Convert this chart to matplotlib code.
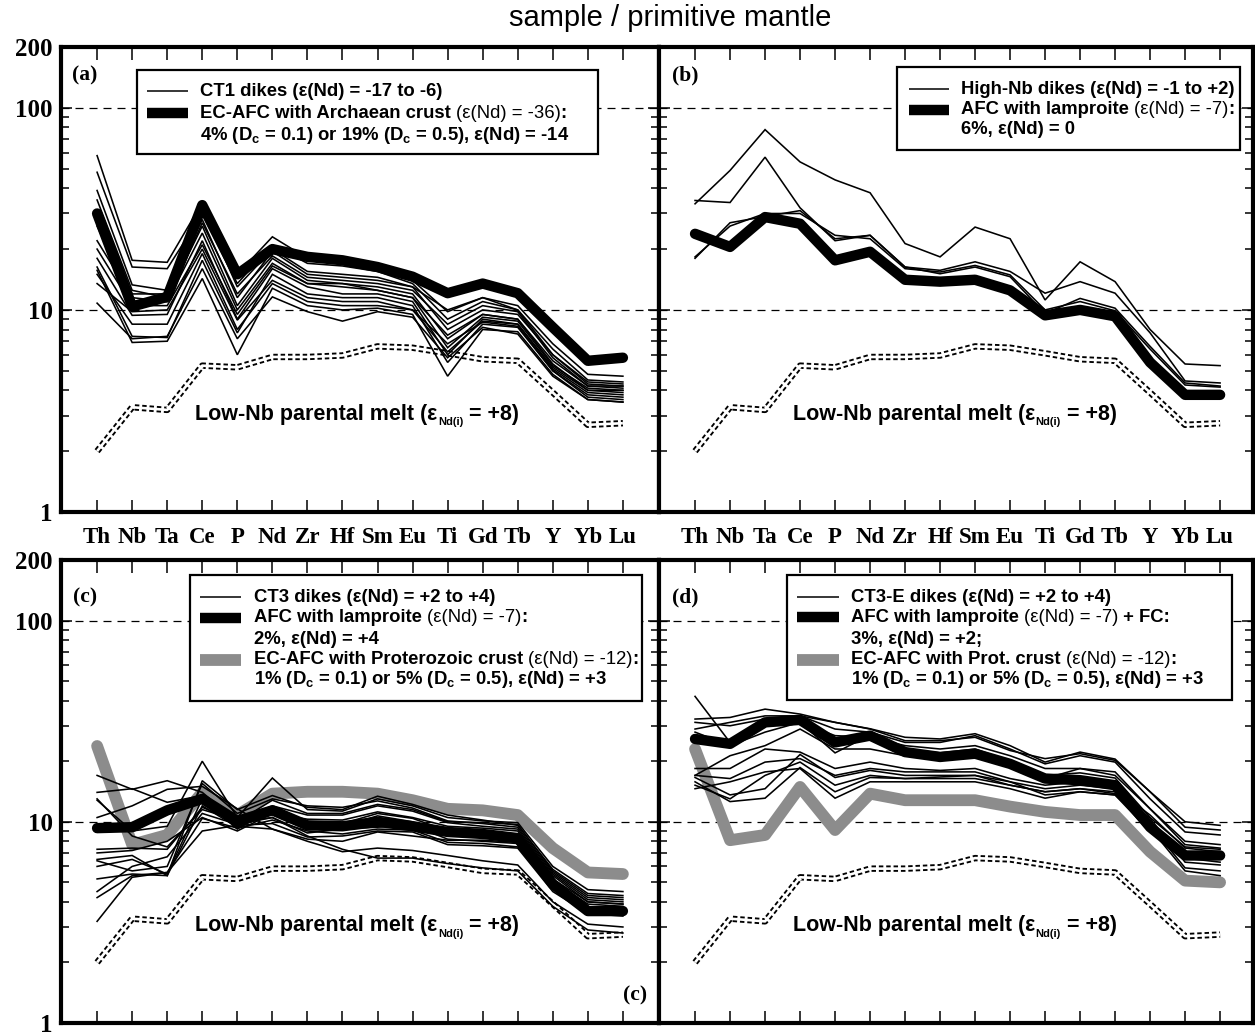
import numpy as np
import matplotlib
matplotlib.use("Agg")
import matplotlib.pyplot as plt
from matplotlib.lines import Line2D
from matplotlib.patches import Rectangle
from matplotlib.text import Annotation
from matplotlib.ticker import FixedLocator, LogLocator, NullFormatter

plt.rcParams["font.family"] = ["Liberation Sans", "DejaVu Sans"]
plt.rcParams["mathtext.fontset"] = "custom"
plt.rcParams["mathtext.rm"] = "Liberation Sans:bold"
plt.rcParams["mathtext.it"] = "Liberation Sans:bold"
plt.rcParams["mathtext.bf"] = "Liberation Sans:bold"

# ---------------- data ----------------
elements = ["Th", "Nb", "Ta", "Ce", "P", "Nd", "Zr", "Hf", "Sm", "Eu",
            "Ti", "Gd", "Tb", "Y", "Yb", "Lu"]
ytick_values = [1, 10, 100, 200]
ytick_labels = ["1", "10", "100", "200"]

parental_melt = [2.0, 3.3, 3.2, 5.3, 5.2, 5.85, 5.85, 5.95, 6.6, 6.5,
                 6.1, 5.7, 5.6, 3.9, 2.7, 2.75]

# panel (a)
ct1_dikes = [
    [58, 17.6, 17.2, 34, 15, 23, 18, 17, 16, 14, 9.8, 11.5, 10.5, 6.8, 4.8, 4.7],
    [48, 16.3, 16.0, 30, 13.5, 21, 17, 16.5, 15.5, 13.5, 9.0, 11.0, 10.0, 6.4, 4.5, 4.4],
    [39, 13.3, 12.5, 28, 11.5, 19.5, 15, 14.5, 14, 13, 8, 10, 9.5, 6.0, 4.4, 4.3],
    [35, 12.5, 11.5, 26, 10.5, 18, 14, 13.5, 13, 12, 7.2, 9.5, 9, 5.6, 4.2, 4.2],
    [22, 11.5, 11, 24, 10, 17, 13.5, 13, 12.5, 11.5, 6.5, 9.2, 8.8, 5.3, 4.1, 4.0],
    [18, 9.4, 9.5, 22, 9.0, 16, 13, 12, 12, 11, 6.0, 9.0, 8.5, 5.2, 4.0, 3.9],
    [16.3, 7.4, 7.3, 17.6, 7.7, 15, 12, 11.5, 11.5, 10.5, 5.5, 8.5, 8.2, 5.0, 3.8, 3.7],
    [15.7, 6.9, 7.0, 14.3, 6.0, 12.8, 10.5, 10.0, 10.2, 9.5, 4.7, 8.0, 7.8, 4.8, 3.6, 3.5],
    [13.5, 9.8, 10, 20, 8.9, 14, 11.5, 11, 11, 10, 6.2, 8.8, 8.5, 5.1, 3.9, 3.8],
    [10.8, 7.2, 7.4, 16, 7.2, 11.6, 9.8, 8.8, 9.8, 9.2, 5.8, 8.2, 7.6, 4.7, 3.6, 3.5],
    [30, 12, 12, 32, 13, 20, 15.5, 15, 14.5, 13, 10, 11.5, 10, 6.0, 4.3, 4.2],
    [20, 10.5, 10.5, 21, 9.5, 16.5, 13.5, 13.5, 12.5, 11.5, 7.5, 9.5, 9, 5.4, 4.0, 4.0],
    [26, 11, 11, 27, 12, 18.5, 14.5, 14, 13.5, 12.5, 8.5, 10.5, 9.8, 5.8, 4.2, 4.1],
    [15, 8.5, 8.5, 19, 8.0, 13.5, 11, 10.5, 10.5, 10, 6.8, 8.7, 8.3, 5.0, 3.7, 3.6],
]
ecafc_archaean = [30, 10.4, 11.6, 33, 15, 20, 18.3, 17.6, 16.3, 14.6, 12.1, 13.5, 12.1, 8.2, 5.6, 5.8]

# panel (b)
high_nb_dikes = [
    [33.5, 49, 78, 54, 44, 38, 21.3, 18.3, 25.7, 22.5, 11.2, 17.3, 13.8, 8.0, 5.4, 5.3],
    [34.8, 34, 57, 32, 22, 23.4, 16.3, 15.7, 17.3, 15.5, 12.1, 13.8, 12.1, 7.7, 4.45, 4.35],
    [18, 27, 29, 31, 22.5, 23.4, 16.3, 15.1, 16.3, 14.6, 9.6, 11.4, 10.2, 6.6, 4.35, 4.2],
    [18.3, 26, 30, 30, 23.4, 22.5, 16, 15.4, 16.6, 14.9, 10, 11, 9.9, 6.4, 4.25, 4.15],
]
afc_lamproite_b = [23.8, 20.5, 28.8, 26.7, 17.6, 19.4, 14.1, 13.8, 14.1, 12.5, 9.4, 10, 9.3, 5.5, 3.8, 3.8]

# panel (c)
ct3_dikes = [
    [17, 14.5, 16, 14, 10, 10.5, 8.5, 7.3, 6.6, 6.6, 6.2, 5.9, 5.7, 3.8, 2.9, 2.8],
    [14, 14.6, 12.5, 13.5, 9.5, 9.2, 8, 7.1, 7.4, 7.2, 6.8, 6.4, 6.1, 4.0, 3.1, 3.0],
    [12.8, 9, 9.5, 20, 10.5, 16.5, 11.5, 11.3, 13, 12, 10.5, 10.1, 9.9, 6.0, 4.6, 4.5],
    [6.5, 6.8, 5.4, 16, 11.5, 13.5, 11.8, 11.5, 13.4, 12.2, 10.8, 10.2, 9.6, 5.8, 4.4, 4.3],
    [6.4, 5.7, 6.0, 15.5, 11, 13, 12, 11.8, 12.7, 11.7, 10.1, 9.8, 9.4, 5.6, 4.2, 4.1],
    [6.0, 6.5, 5.5, 13, 9.2, 11.7, 9.5, 9.5, 10.7, 10, 8.8, 9.0, 8.6, 5.2, 4.0, 3.9],
    [5.2, 5.5, 5.4, 12, 9.4, 11, 10, 9.8, 11, 10.4, 9, 8.8, 8.4, 5.1, 3.9, 3.8],
    [4.5, 6.0, 6.7, 11, 9.7, 10.5, 8.8, 9.2, 9.4, 9.6, 8.2, 8.0, 7.8, 4.8, 3.7, 3.6],
    [4.2, 5.4, 5.6, 10.4, 9.3, 10.2, 9.0, 8.7, 9.2, 9.1, 7.9, 7.8, 7.5, 4.7, 3.6, 3.5],
    [3.2, 5.3, 5.6, 9, 9.6, 9.8, 8.4, 8.5, 9.0, 8.9, 7.7, 7.6, 7.4, 4.5, 3.5, 3.4],
    [7, 7.2, 8, 10.5, 9, 11, 10.3, 10.2, 11.2, 10.5, 9.5, 9.3, 9.0, 5.4, 4.0, 3.9],
    [13, 8.5, 7.5, 11.5, 10.2, 12, 10.8, 10.8, 12.0, 11.3, 9.9, 9.5, 9.2, 5.5, 4.1, 4.0],
    [7.3, 7.4, 7.3, 11.8, 10, 12.8, 11, 11, 12.2, 11.5, 10, 9.9, 9.7, 5.7, 4.3, 4.2],
    [10.5, 12, 14.5, 15, 11.6, 9.2, 8.2, 8.0, 8.9, 8.5, 8.1, 8.1, 7.9, 4.8, 3.7, 3.6],
]
afc_lamproite_c = [9.3, 9.4, 11.4, 13.0, 10.1, 11.4, 9.6, 9.5, 10, 9.5, 8.9, 8.7, 8.3, 4.9, 3.6, 3.6]
ecafc_prot_c = [23.8, 7.7, 8.6, 14, 10.8, 13.8, 14.1, 14.1, 13.8, 12.8, 11.6, 11.4, 10.8, 7.4, 5.6, 5.5]

# panel (d)
ct3e_dikes = [
    [42, 24.8, 31, 31.2, 22, 27, 23, 22, 23, 20, 17, 17.5, 16.5, 10.5, 7.5, 7.3],
    [32.4, 33, 36.3, 34.3, 31.2, 29, 26.3, 25.8, 27.4, 23.9, 19.8, 22.2, 20.5, 14.1, 10, 9.6],
    [28.9, 31.2, 33.6, 33.6, 28.9, 27.9, 24.8, 24.8, 26.8, 23, 19.4, 21.3, 19.8, 13, 8.9, 8.6],
    [17, 21.3, 23.9, 28.9, 23, 23, 21.3, 21.3, 21.3, 19.8, 16.4, 18.4, 17, 11.6, 7.7, 7.4],
    [18.4, 18.4, 23, 22.2, 18.4, 19.8, 18.4, 18, 18.4, 16.4, 15.2, 15.8, 14.6, 10.8, 7.4, 7.1],
    [16.6, 13.6, 14.6, 21.6, 16.6, 18, 17, 17, 17, 15.8, 14.6, 15.2, 14.6, 10.4, 6.3, 6.1],
    [15.8, 12.6, 13.1, 18.6, 14.1, 16.6, 16.4, 16.4, 16.4, 15.2, 14.1, 14.6, 14.1, 9.6, 5.9, 5.7],
    [14.6, 15.8, 17.7, 18.4, 13.1, 15.8, 15.8, 15.8, 15.8, 14.6, 13.1, 14.1, 13.6, 9.3, 5.7, 5.4],
    [17, 16.4, 19.8, 20.6, 17, 18.4, 17.7, 17.7, 17.7, 15.8, 13.6, 14.1, 13.6, 8.9, 6.6, 6.3],
    [15.2, 13, 17, 19.8, 15.2, 17, 16.4, 16.7, 17, 15.2, 14.1, 14.6, 13.8, 9.8, 7.1, 6.8],
    [31.2, 30, 32.4, 33.6, 31.2, 28.9, 25.3, 25.3, 26.3, 22.6, 20.6, 21.8, 20.2, 14.1, 9.4, 9.1],
    [27.9, 23.9, 27.9, 31.2, 26.8, 26.3, 23.9, 23, 23.9, 21.3, 18.4, 18.4, 17.7, 11.6, 8.0, 7.7],
]
afc_lamproite_d = [25.8, 24.4, 31.2, 32.1, 24.8, 26.8, 22.2, 21, 21.8, 19.4, 16.4, 16.1, 15.2, 9.4, 6.8, 6.8]
ecafc_prot_d = [23, 8.1, 8.6, 14.9, 9.1, 13.8, 12.8, 12.8, 12.8, 11.9, 11.2, 10.8, 10.8, 7.1, 5.1, 5.0]

# ---------------- figure ----------------
W, H = 1255, 1035
fig = plt.figure(figsize=(W / 100, H / 100), dpi=100)
fig.patch.set_facecolor("white")

GREY = "#8c8c8c"
SERIF = ["Liberation Serif", "DejaVu Serif"]


def fx(x):
    return x / W


def fy(y):
    return 1 - y / H


def add_ax(l, r, t, b):
    return fig.add_axes([fx(l), fy(b), (r - l) / W, (b - t) / H])


def style(ax, xmax, left_labels, bottom_labels):
    ax.set_yscale("log")
    ax.set_ylim(1, 200)
    ax.set_xlim(-1.03, xmax)
    ax.set_xticks(range(len(elements)))
    ax.set_xticklabels(elements, fontfamily=SERIF, fontweight="bold", fontsize=16.5)
    ax.yaxis.set_major_locator(FixedLocator(ytick_values))
    ax.set_yticklabels(ytick_labels, fontfamily=SERIF, fontweight="bold", fontsize=18)
    ax.yaxis.set_minor_locator(LogLocator(base=10, subs=np.arange(2, 10)))
    ax.yaxis.set_minor_formatter(NullFormatter())
    ax.tick_params(axis="x", which="major", direction="in", top=True, bottom=True,
                   length=9, width=1.1, labelbottom=bottom_labels, labeltop=False, pad=11)
    ax.tick_params(axis="y", which="both", direction="in", left=True, right=True,
                   width=1.1, labelleft=left_labels, labelright=False, pad=6)
    ax.tick_params(axis="y", which="major", length=8)
    ax.tick_params(axis="y", which="minor", length=5.5)
    for s in ax.spines.values():
        s.set_linewidth(3)
    for v in (10, 100):
        ax.axhline(v, color="black", lw=0.9, ls=(0, (6.4, 4.8)), zorder=0.5)


def draw_parental(ax):
    x = np.arange(len(elements))
    ax.plot(x, parental_melt, color="black", lw=4.6, ls=(0, (0.7, 0.45)),
            dash_capstyle="butt", zorder=1.5)
    ax.plot(x, parental_melt, color="white", lw=1.9, zorder=1.6,
            solid_capstyle="butt")
    t1 = ax.text(2.8, 3.05, "Low-Nb parental melt (ε", ha="left", va="center",
                 fontsize=15.5, fontweight="bold", zorder=5)
    t2 = ax.annotate("Nd(i)", xy=(1, 0), xycoords=t1, xytext=(0.3, -1.8),
                     textcoords="offset points", ha="left", va="bottom",
                     fontsize=8, fontweight="bold", zorder=5)
    ax.annotate(" = +8)", xy=(1, 0), xycoords=(t2, t1), ha="left", va="bottom",
                fontsize=15.5, fontweight="bold", zorder=5)


def thin(ax, rows):
    x = np.arange(len(elements))
    for r in rows:
        ax.plot(x, r, color="black", lw=1.15, zorder=3, solid_joinstyle="miter")


def thick(ax, vals, color="black", lw=7.5, z=4):
    x = np.arange(len(elements))
    ax.plot(x, vals, color=color, lw=lw, zorder=z, solid_capstyle="round",
            solid_joinstyle="round")


axa = add_ax(61, 659, 47, 512)
axb = add_ax(659, 1253, 47, 512)
axc = add_ax(61, 659, 560, 1023)
axd = add_ax(659, 1253, 560, 1023)

style(axa, 16.03, True, True)
style(axb, 15.94, False, True)
style(axc, 16.03, True, False)
style(axd, 15.94, False, False)

for ax in (axa, axb, axc, axd):
    draw_parental(ax)

thin(axa, ct1_dikes)
thick(axa, ecafc_archaean)

thin(axb, high_nb_dikes)
thick(axb, afc_lamproite_b)

thick(axc, ecafc_prot_c, color=GREY, lw=8.5, z=2)
thin(axc, ct3_dikes)
thick(axc, afc_lamproite_c)

thick(axd, ecafc_prot_d, color=GREY, lw=8.5, z=2)
thin(axd, ct3e_dikes)
thick(axd, afc_lamproite_d)

# ---------------- legends ----------------
FS = 13.3


def legend_box(box, handles, hx, tx, rows):
    x0, y0, x1, y1 = box
    fig.add_artist(Rectangle((fx(x0), fy(y1)), (x1 - x0) / W, (y1 - y0) / H,
                             transform=fig.transFigure, facecolor="white",
                             edgecolor="black", lw=1.6, zorder=5))
    for ry, color, lw in handles:
        fig.add_artist(Line2D([fx(hx[0]), fx(hx[1])], [fy(ry), fy(ry)],
                              transform=fig.transFigure, color=color, lw=lw,
                              solid_capstyle="butt", zorder=6))
    for ry, pieces in rows:
        prev = None
        for txt, weight in pieces:
            if prev is None:
                prev = fig.text(fx(tx), fy(ry), txt, ha="left", va="center",
                                fontsize=FS, fontweight=weight, zorder=6)
            else:
                a = Annotation(txt, xy=(1, 0), xycoords=prev, ha="left",
                               va="bottom", fontsize=FS, fontweight=weight,
                               zorder=6)
                fig.add_artist(a)
                prev = a


legend_box((137, 70, 598, 154),
           [(91, "black", 1.1), (113, "black", 7.5)], (147, 188), 200,
           [(91, [("CT1 dikes (ε(Nd) = -17 to -6)", "bold")]),
            (113, [("EC-AFC with Archaean crust ", "bold"),
                   ("(ε(Nd) = -36)", "normal"), (":", "bold")]),
            (135, [("4% (D$_c$ = 0.1) or 19% (D$_c$ = 0.5), ε(Nd) = -14", "bold")])])

legend_box((897, 67, 1240, 150),
           [(89, "black", 1.1), (110, "black", 7.5)], (909, 949), 961,
           [(89, [("High-Nb dikes (ε(Nd) = -1 to +2)", "bold")]),
            (110, [("AFC with lamproite ", "bold"),
                   ("(ε(Nd) = -7)", "normal"), (":", "bold")]),
            (130, [("6%, ε(Nd) = 0", "bold")])])

legend_box((190, 575, 642, 701),
           [(597, "black", 1.1), (618, "black", 7.5), (660, GREY, 8.5)],
           (200, 241), 254,
           [(597, [("CT3 dikes (ε(Nd) = +2 to +4)", "bold")]),
            (618, [("AFC with lamproite ", "bold"),
                   ("(ε(Nd) = -7)", "normal"), (":", "bold")]),
            (639, [("2%, ε(Nd) = +4", "bold")]),
            (660, [("EC-AFC with Proterozoic crust ", "bold"),
                   ("(ε(Nd) = -12)", "normal"), (":", "bold")]),
            (680, [("1% (D$_c$ = 0.1) or 5% (D$_c$ = 0.5), ε(Nd) = +3", "bold")])])

legend_box((787, 575, 1232, 700),
           [(597, "black", 1.1), (617, "black", 7.5), (660, GREY, 8.5)],
           (797, 839), 851,
           [(597, [("CT3-E dikes (ε(Nd) = +2 to +4)", "bold")]),
            (617, [("AFC with lamproite ", "bold"),
                   ("(ε(Nd) = -7)", "normal"), (" + FC:", "bold")]),
            (639, [("3%, ε(Nd) = +2;", "bold")]),
            (660, [("EC-AFC with Prot. crust ", "bold"),
                   ("(ε(Nd) = -12)", "normal"), (":", "bold")]),
            (680, [("1% (D$_c$ = 0.1) or 5% (D$_c$ = 0.5), ε(Nd) = +3", "bold")])])

# ---------------- labels ----------------
for lab, x, y in [("(a)", 85, 75), ("(b)", 685, 75), ("(c)", 85, 597),
                  ("(d)", 685, 597), ("(c)", 635, 995)]:
    fig.text(fx(x), fy(y), lab, ha="center", va="center", fontsize=15.5,
             fontweight="bold", family=SERIF, zorder=6)

fig.text(fx(670), fy(18), "sample / primitive mantle", ha="center", va="center",
         fontsize=21)

fig.savefig("out.png", dpi=100, facecolor="white")
